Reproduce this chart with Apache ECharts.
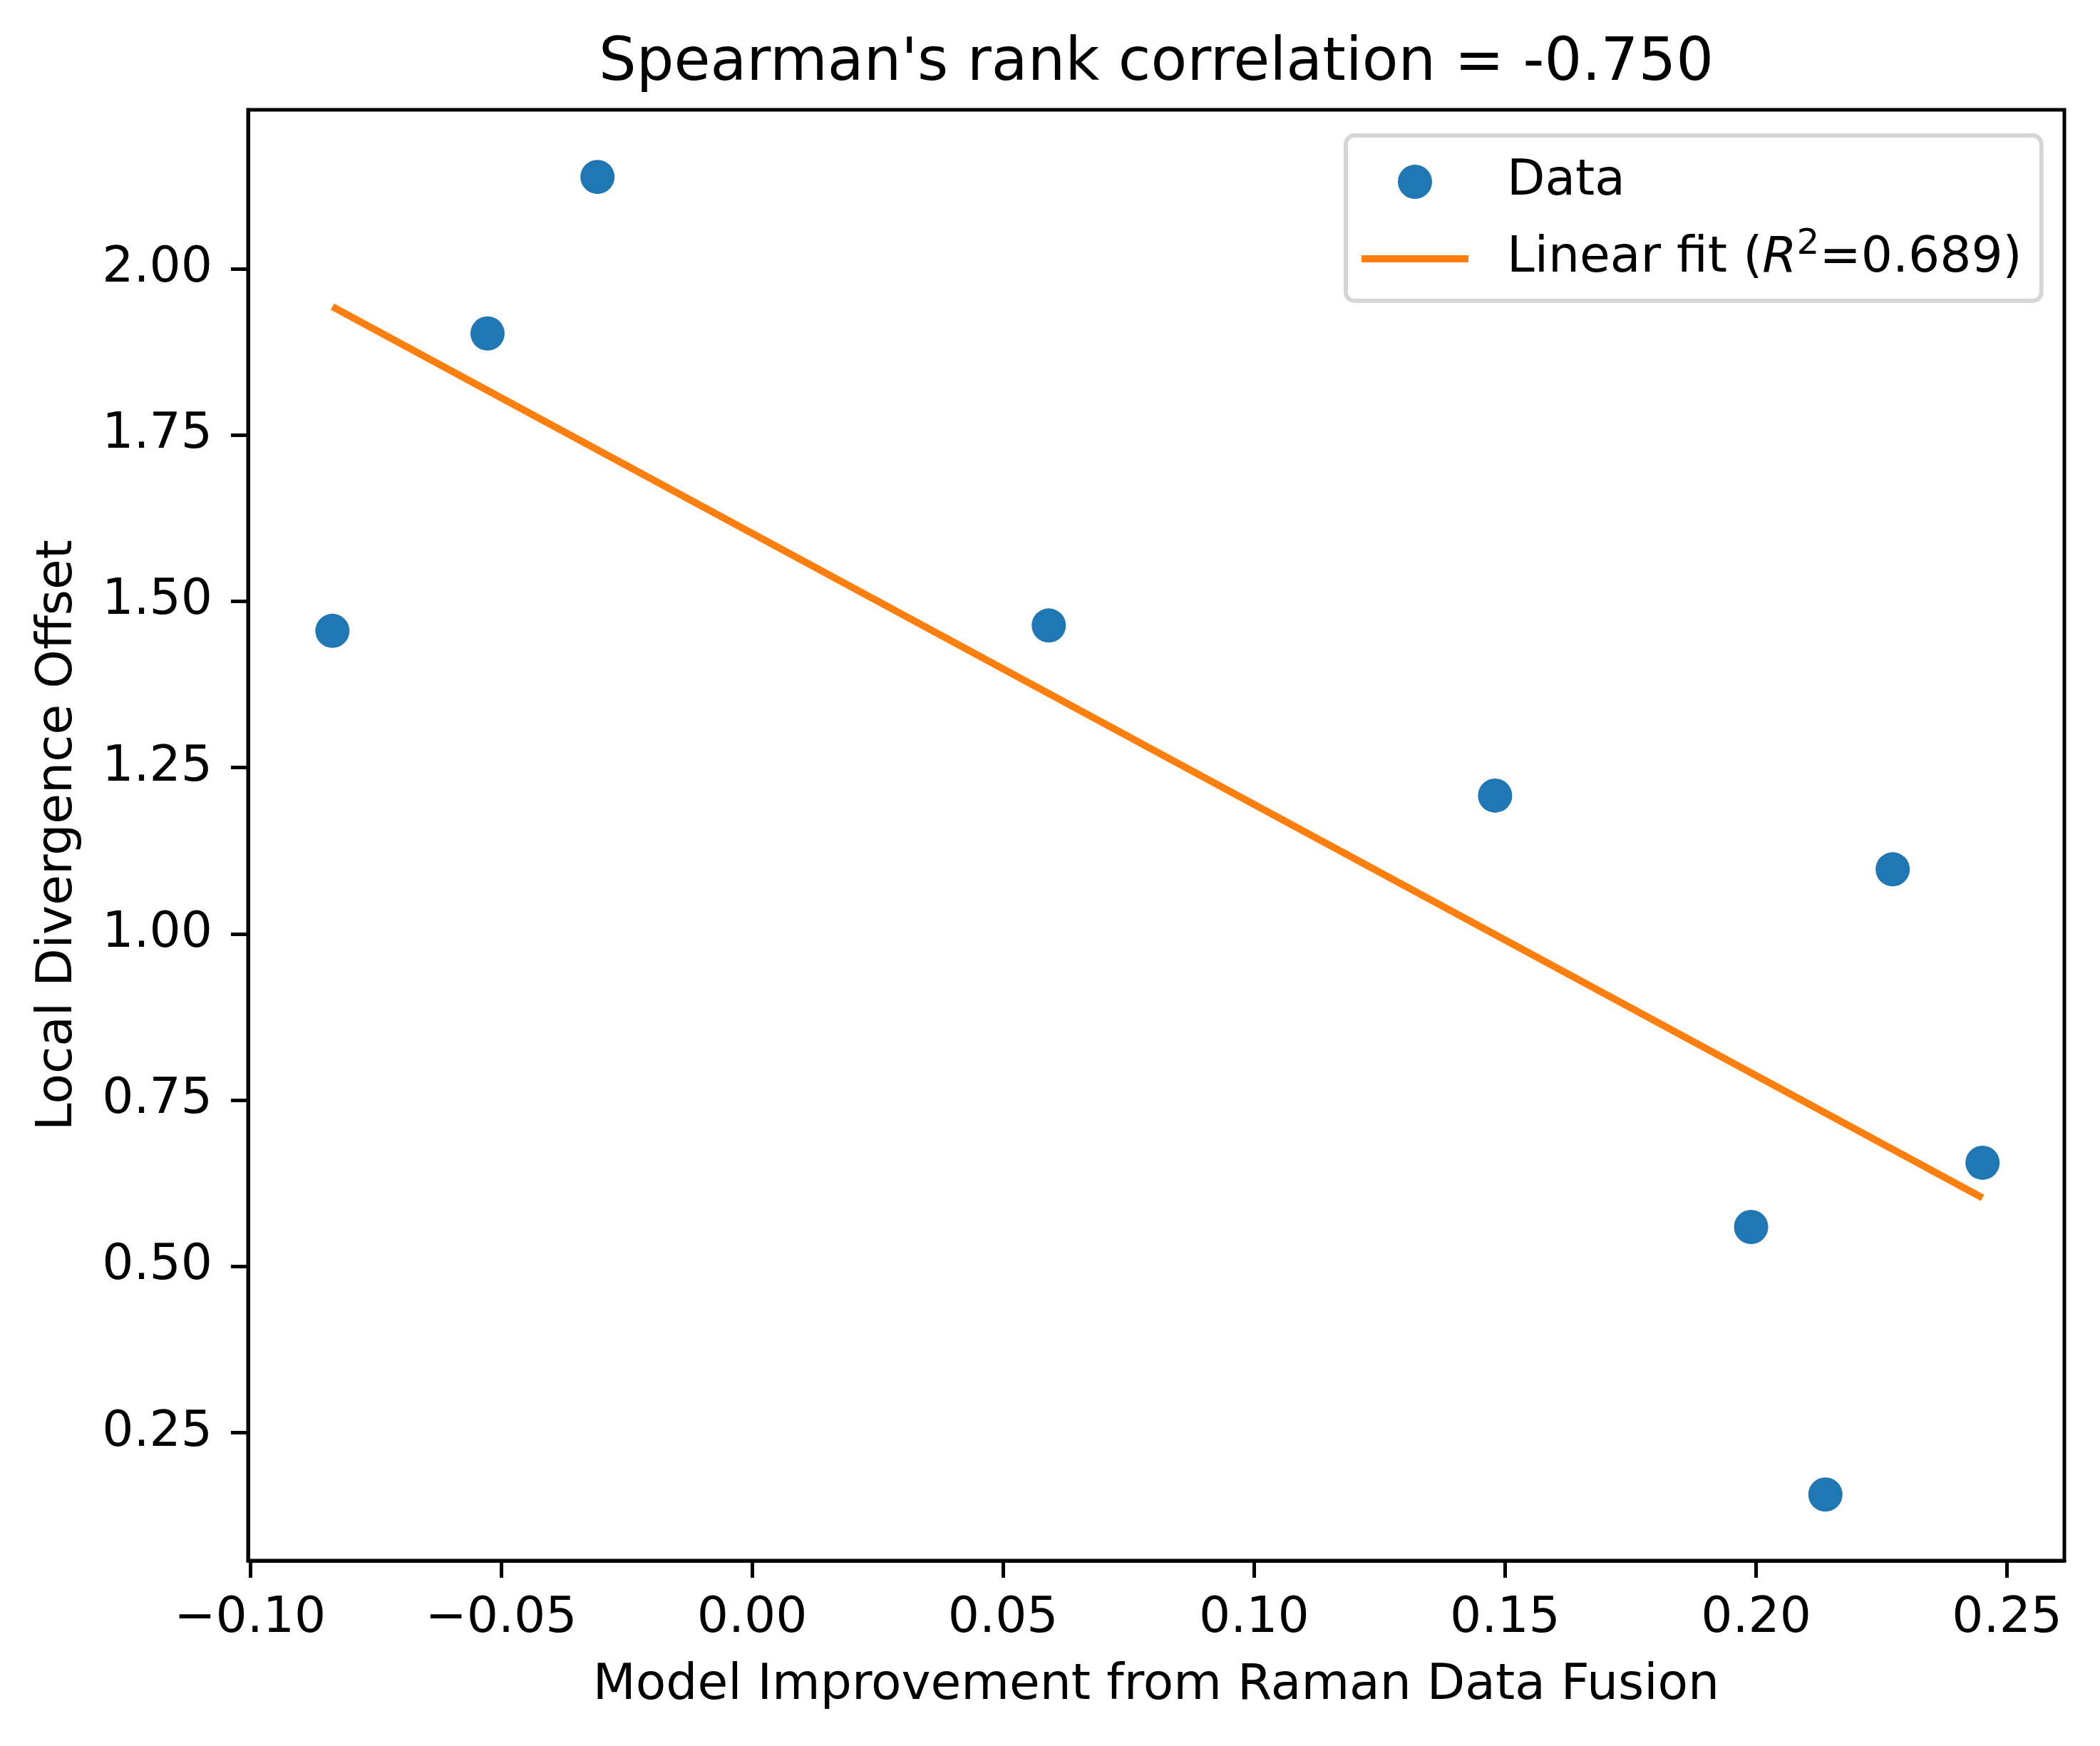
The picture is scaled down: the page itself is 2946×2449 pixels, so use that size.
<!DOCTYPE html>
<html>
<head>
<meta charset="utf-8">
<script src="https://cdn.jsdelivr.net/npm/echarts@6/dist/echarts.min.js"></script>
<style>
  html, body { margin: 0; padding: 0; background: #fff; }
  #main { width: 2946px; height: 2449px; }
</style>
</head>
<body>
<div id="main"></div>
<script>
// values
const improvement = [-0.0836, -0.0527, -0.0308, 0.0591, 0.148, 0.2272, 0.199, 0.2138, 0.2451];
const divergence = [1.4555, 1.9026, 2.138, 1.4636, 1.2078, 1.097, 0.5592, 0.157, 0.6558];
// end points of the fitted line, as drawn
const fitX = [-0.0836, 0.2451];
const fitY = [1.943, 0.603];
const xTicks = [-0.10, -0.05, 0.00, 0.05, 0.10, 0.15, 0.20, 0.25];
const yTicks = [0.25, 0.50, 0.75, 1.00, 1.25, 1.50, 1.75, 2.00];

const font = 'DejaVu Sans';
const fs = 69.5;
const fmt = v => v.toFixed(2).replace('-', '\u2212');

const chart = echarts.init(document.getElementById('main'), null, { renderer: 'canvas' });

const option = {
  animation: false,
  backgroundColor: '#fff',
  title: {
    text: "Spearman's rank correlation = -0.750",
    left: 1622,
    top: 49,
    padding: 0,
    textAlign: 'center',
    textStyle: { fontFamily: font, fontSize: 83, fontWeight: 'normal', color: '#000' }
  },
  grid: {
    left: 348, right: 50, top: 154, bottom: 260,
    show: true, borderColor: '#000', borderWidth: 5
  },
  legend: {
    orient: 'vertical',
    left: 1888, top: 190,
    padding: [20, 27, 14, 22],
    itemWidth: 150, itemHeight: 48, itemGap: 18,
    backgroundColor: '#fff',
    borderColor: '#d6d6d6', borderWidth: 6, borderRadius: 12,
    itemStyle: { borderWidth: 0 },
    data: [
      { name: 'Data', icon: 'circle' },
      { name: 'Linear fit', icon: 'path://M0,0H150V10H0Z' }
    ],
    formatter: name => name === 'Data'
      ? '{gap| }Data'
      : '{gap| }Linear fit ({i|R}{sup|2}=0.689)',
    textStyle: {
      fontFamily: font, fontSize: fs, color: '#000', lineHeight: 90,
      rich: {
        gap: { width: 49, fontSize: fs, lineHeight: 90 },
        i: { fontFamily: font, fontSize: fs, fontStyle: 'italic', color: '#000', lineHeight: 90 },
        sup: { fontFamily: font, fontSize: 50, color: '#000', lineHeight: 42, verticalAlign: 'top' }
      }
    }
  },
  xAxis: {
    type: 'value',
    min: -0.1004, max: 0.2614,
    name: 'Model Improvement from Raman Data Fusion',
    nameLocation: 'middle', nameGap: 141,
    nameTextStyle: { fontFamily: font, fontSize: fs, color: '#000' },
    splitLine: { show: false },
    axisLine: { show: true, onZero: false, lineStyle: { color: '#000', width: 5 } },
    axisTick: { show: true, length: 24, customValues: xTicks, lineStyle: { color: '#000', width: 5 } },
    axisLabel: {
      customValues: xTicks, margin: 47, formatter: fmt,
      fontFamily: font, fontSize: fs, color: '#000'
    }
  },
  yAxis: {
    type: 'value',
    min: 0.0576, max: 2.2389,
    name: 'Local Divergence Offset',
    nameLocation: 'middle', nameGap: 231,
    nameTextStyle: { fontFamily: font, fontSize: fs, color: '#000' },
    splitLine: { show: false },
    axisLine: { show: true, onZero: false, lineStyle: { color: '#000', width: 5 } },
    axisTick: { show: true, length: 24, customValues: yTicks, lineStyle: { color: '#000', width: 5 } },
    axisLabel: {
      customValues: yTicks, margin: 50, formatter: fmt,
      fontFamily: font, fontSize: fs, color: '#000'
    }
  },
  series: [
    {
      name: 'Data',
      type: 'scatter',
      symbol: 'circle',
      symbolSize: 48,
      itemStyle: { color: '#1f77b4', opacity: 1 },
      data: improvement.map((x, i) => [x, divergence[i]])
    },
    {
      name: 'Linear fit',
      type: 'line',
      showSymbol: false,
      symbol: 'none',
      itemStyle: { color: '#ff7f0e' },
      lineStyle: { color: '#ff7f0e', width: 10 },
      data: fitX.map((x, i) => [x, fitY[i]])
    }
  ]
};

chart.setOption(option);
</script>
</body>
</html>
